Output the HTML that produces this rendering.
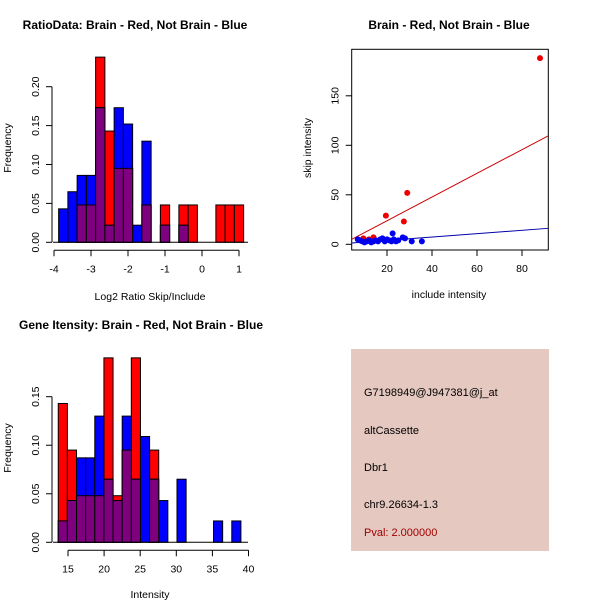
<!DOCTYPE html>
<html><head><meta charset="utf-8"><style>
body{margin:0;background:#fff;width:600px;height:600px;overflow:hidden}
svg{display:block;font-family:"Liberation Sans",sans-serif}
</style></head><body>
<svg id="c" width="600" height="600" xmlns="http://www.w3.org/2000/svg">
<rect x="351" y="349" width="198" height="202" fill="#e5c8c0"/>
<g font-size="11" fill="#000">
<text x="364" y="396">G7198949@J947381@j_at</text>
<text x="364" y="434">altCassette</text>
<text x="364" y="471">Dbr1</text>
<text x="364" y="508">chr9.26634-1.3</text>
<text x="364" y="536" fill="#a00000">Pval: 2.000000</text>
</g>
</svg>
<script>
// ---- Ratio histogram data ----
const ratioBreakStart = -3.875;
const ratioBinWidth = 0.25;
const ratioRed  = [0,0,0.048,0.048,0.238,0.143,0.095,0.095,0,0.048,0,0.048,0,0.048,0.048,0,0,0.048,0.048,0.048];
const ratioBlue = [0.043,0.065,0.086,0.086,0.173,0.022,0.173,0.152,0.022,0.130,0,0.022,0,0.022,0,0,0,0,0,0];
const ratioXTicks = [-4,-3,-2,-1,0,1];
const ratioYTicks = [0,0.05,0.10,0.15,0.20];
const ratioYLabels = ["0.00","0.05","0.10","0.15","0.20"];
// ---- Intensity histogram data ----
const intBreakStart = 13.65;
const intBinWidth = 1.265;
const intRed  = [0.143,0.095,0.048,0.048,0.048,0.190,0.048,0.095,0.190,0,0.095,0,0,0,0,0,0,0,0,0];
const intBlue = [0.022,0.043,0.087,0.087,0.130,0.065,0.043,0.130,0.065,0.109,0.065,0.043,0,0.065,0,0,0,0.022,0,0.022];
const intXTicks = [15,20,25,30,35,40];
const intYTicks = [0,0.05,0.10,0.15];
const intYLabels = ["0.00","0.05","0.10","0.15"];
// ---- Scatter data ----
const redX = [88,29,19.5,27.5,14,9.5,12];
const redY = [188,52,29,23,7,6,5];
const blueX = [22.5,27,28,31,35.5,18,8,9,10,11,12,13,14,15,16,17,19,20,21,23,24,7,25,22];
const blueY = [11,7,6,3,3,6,4,3,2,3,4,2,3,4,3,5,3,5,4,5,3,5,4,3];
const redFit = [-0.15,1.197];
const blueFit = [0.56,0.17];
const scXTicks = [20,40,60,80];
const scYTicks = [0,50,100,150];

const svg = document.getElementById('c');
const NS = 'http://www.w3.org/2000/svg';
const TS = 10.5;
function mk(tag, attrs, parent){const e=document.createElementNS(NS,tag);for(const k in attrs)e.setAttribute(k,attrs[k]);(parent||svg).appendChild(e);return e;}
function txt(x,y,s,size,extra,parent){const t=mk('text',Object.assign({x:x,y:y,'font-size':size,'text-anchor':'middle'},extra||{}),parent);t.textContent=s;return t;}

function hist(cfg){
  const g=mk('g',{});
  
  
  const X=v=>cfg.x0+(v-cfg.xv0)*cfg.xs, Y=v=>cfg.y0-v*cfg.ys;
  const drawSet=(vals,color,label)=>{
    vals.forEach((v,i)=>{ if(v<=0)return;
      const a=X(cfg.bs+i*cfg.bw), b=X(cfg.bs+(i+1)*cfg.bw);
      const r=mk('rect',{x:a,y:Y(v),width:b-a,height:Y(0)-Y(v),fill:color,stroke:'#000','stroke-width':1},g);
      
      
    });
  };
  drawSet(cfg.red,'#ff0000','red');
  drawSet(cfg.blue,'#0000ff','blue');
  cfg.red.forEach((v,i)=>{const m=Math.min(v,cfg.blue[i]); if(m<=0)return;
    const a=X(cfg.bs+i*cfg.bw), b=X(cfg.bs+(i+1)*cfg.bw);
    const r=mk('rect',{x:a,y:Y(m),width:b-a,height:Y(0)-Y(m),fill:'#7f007f',stroke:'#000','stroke-width':1},g);
    
    
  });
  const ya=mk('g',{},g);
  
  
  mk('line',{x1:cfg.x0-cfg.axOff,x2:cfg.x0-cfg.axOff,y1:Y(cfg.yt[0]),y2:Y(cfg.yt[cfg.yt.length-1]),stroke:'#000'},ya);
  cfg.yt.forEach((v,i)=>{const y=Y(v);mk('line',{x1:cfg.x0-cfg.axOff-6,x2:cfg.x0-cfg.axOff,y1:y,y2:y,stroke:'#000'},ya);
    txt(0,0,cfg.yl[i],TS,{transform:`translate(${cfg.x0-cfg.axOff-13},${y}) rotate(-90)`},ya);});
  const xa=mk('g',{},g);
  
  
  const yb=cfg.y0+8;
  mk('line',{x1:X(cfg.xt[0]),x2:X(cfg.xt[cfg.xt.length-1]),y1:yb,y2:yb,stroke:'#000'},xa);
  cfg.xt.forEach(v=>{mk('line',{x1:X(v),x2:X(v),y1:yb,y2:yb+6,stroke:'#000'},xa);txt(X(v),yb+22,String(v),TS,{},xa);});
  mk('line',{x1:cfg.x0-cfg.axOff+1,x2:cfg.baseEnd,y1:cfg.y0,y2:cfg.y0,stroke:'#000'},g);
  const t=txt(cfg.titleX,cfg.titleY,cfg.title,12,{'font-weight':'bold'},g);
  
  
  const xl=txt(150,cfg.xlabY,cfg.xlab,TS,{},g);
  
  
  const yl=txt(0,0,'Frequency',TS,{transform:`translate(11,${cfg.ylabY}) rotate(-90)`},g);
  
  
}

hist({name:'ratio-histogram',x0:54,xv0:-4,xs:37,y0:242.3,ys:778,bs:ratioBreakStart,bw:ratioBinWidth,
  red:ratioRed,blue:ratioBlue,xt:ratioXTicks,yt:ratioYTicks,yl:ratioYLabels,axOff:2,baseEnd:248,
  title:'RatioData: Brain - Red, Not Brain - Blue',titleX:135,titleY:29,xlab:'Log2 Ratio Skip/Include',xlabY:300,ylabY:148});
hist({name:'intensity-histogram',x0:68,xv0:15,xs:7.22,y0:542.3,ys:970.7,bs:intBreakStart,bw:intBinWidth,
  red:intRed,blue:intBlue,xt:intXTicks,yt:intYTicks,yl:intYLabels,axOff:16,baseEnd:248,
  title:'Gene Itensity: Brain - Red, Not Brain - Blue',titleX:141,titleY:329,xlab:'Intensity',xlabY:598,ylabY:448});

(function(){
  const g=mk('g',{});
  
  
  const L=351.7,R=548.3,T=49.3,B=250;
  const X=v=>342+v*2.25, Y=v=>244.3-v*0.99;
  mk('rect',{x:L,y:T,width:R-L,height:B-T,fill:'none',stroke:'#000'},g);
  const cp=mk('clipPath',{id:'clp'},g); mk('rect',{x:L,y:T,width:R-L,height:B-T},cp);
  const fit=(f,c,n)=>{const x1=4.3,x2=91.7;const l=mk('line',{x1:X(x1),y1:Y(f[0]+f[1]*x1),x2:X(x2),y2:Y(f[0]+f[1]*x2),stroke:c,'clip-path':'url(#clp)'},g);
    
    };
  fit(redFit,'#cc0000','red-fit-line');
  fit(blueFit,'#0000aa','blue-fit-line');
  redX.forEach((x,i)=>{const c=mk('circle',{cx:X(x),cy:Y(redY[i]),r:3,fill:'#ee0000'},g);
    
    });
  blueX.forEach((x,i)=>{const c=mk('circle',{cx:X(x),cy:Y(blueY[i]),r:3,fill:'#0000ee'},g);
    
    });
  scXTicks.forEach(v=>{mk('line',{x1:X(v),x2:X(v),y1:B,y2:B+6,stroke:'#000'},g);txt(X(v),B+22,String(v),TS,{},g);});
  scYTicks.forEach(v=>{mk('line',{x1:L-6,x2:L,y1:Y(v),y2:Y(v),stroke:'#000'},g);txt(0,0,String(v),TS,{transform:`translate(${L-13},${Y(v)}) rotate(-90)`},g);});
  const t=txt(449,29,'Brain - Red, Not Brain - Blue',12,{'font-weight':'bold'},g);
  
  
  const xl=txt(449,298,'include intensity',TS,{},g);
  
  
  const yl=txt(0,0,'skip intensity',TS,{transform:'translate(311,148) rotate(-90)'},g);
  
  
})();
</script>
</body></html>
